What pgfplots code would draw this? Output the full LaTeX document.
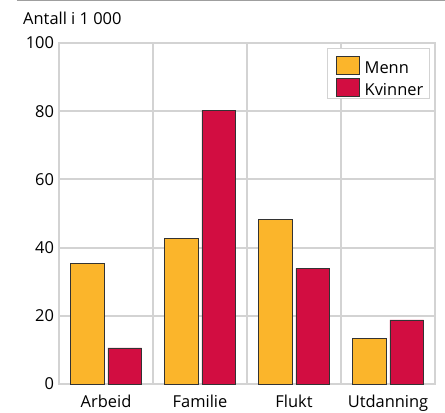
\documentclass[border=0pt]{standalone}
\usepackage{pgfplots}
\pgfplotsset{compat=1.18}
\usepackage{fontspec}
\setmainfont{Open Sans}
\usetikzlibrary{calc}
\definecolor{menn}{HTML}{FBB52B}
\definecolor{kvinner}{HTML}{D20D41}
\definecolor{gridgray}{HTML}{D3D3D3}
\newcommand{\lbl}{\fontsize{16.5}{19}\selectfont}
\begin{document}
\begin{tikzpicture}
\begin{axis}[
  scale only axis, width=376bp, height=341bp,
  ybar, bar width=0.36,
  xmin=-0.5, xmax=3.5, ymin=0, ymax=100,
  xtick={0,1,2,3}, xticklabels={Arbeid,Familie,Flukt,Utdanning},
  minor xtick={0.5,1.5,2.5},
  ytick={0,20,...,100},
  xmajorgrids=false, xminorgrids=true, ymajorgrids=true,
  grid style={draw=gridgray, line width=2bp},
  minor grid style={draw=gridgray, line width=2bp},
  axis line style={draw=gridgray, line width=2.5bp},
  major tick length=0pt, minor tick length=0pt,
  tick style={draw=none},
  tick label style={font=\lbl},
  xticklabel style={anchor=base, inner ysep=0pt, yshift=-23.5bp},
  yticklabel style={xshift=-1.5bp},
  /pgf/number format/assume math mode=true,
  legend style={at={(1,1)}, anchor=north east, xshift=-5bp, yshift=-5bp,
    draw=gridgray, line width=1.5bp, fill=white, font=\lbl,
    cells={anchor=base west}, row sep=-5.7bp, inner xsep=4bp, inner ysep=0bp},
  legend image code/.code={\path (-4.5bp,-1bp) (26bp,24bp);
    \draw[#1] (0bp,-1bp) rectangle (23bp,17bp);},
]
\addplot[fill=menn, draw=black!80, line width=0.6bp, bar shift=-0.2]
  coordinates {(0,35.4) (1,42.7) (2,48.3) (3,13.4)};
\addplot[fill=kvinner, draw=black!80, line width=0.6bp, bar shift=0.2]
  coordinates {(0,10.6) (1,80.2) (2,33.9) (3,18.8)};
\legend{Menn,Kvinner}
\end{axis}
\draw[color=gray!75, line width=1.2bp]
  ($(current axis.north west)+(-42bp,42.5bp)$) -- ($(current axis.north east)+(10bp,42.5bp)$);
\node[anchor=base west, inner sep=0pt, font=\lbl]
  at ($(current axis.north west)+(-36bp,18bp)$) {Antall i 1 000};
\pgfresetboundingbox
\useasboundingbox ($(current axis.south west)+(-59bp,-28bp)$) rectangle ($(current axis.north east)+(10bp,43bp)$);
\end{tikzpicture}
\end{document}
